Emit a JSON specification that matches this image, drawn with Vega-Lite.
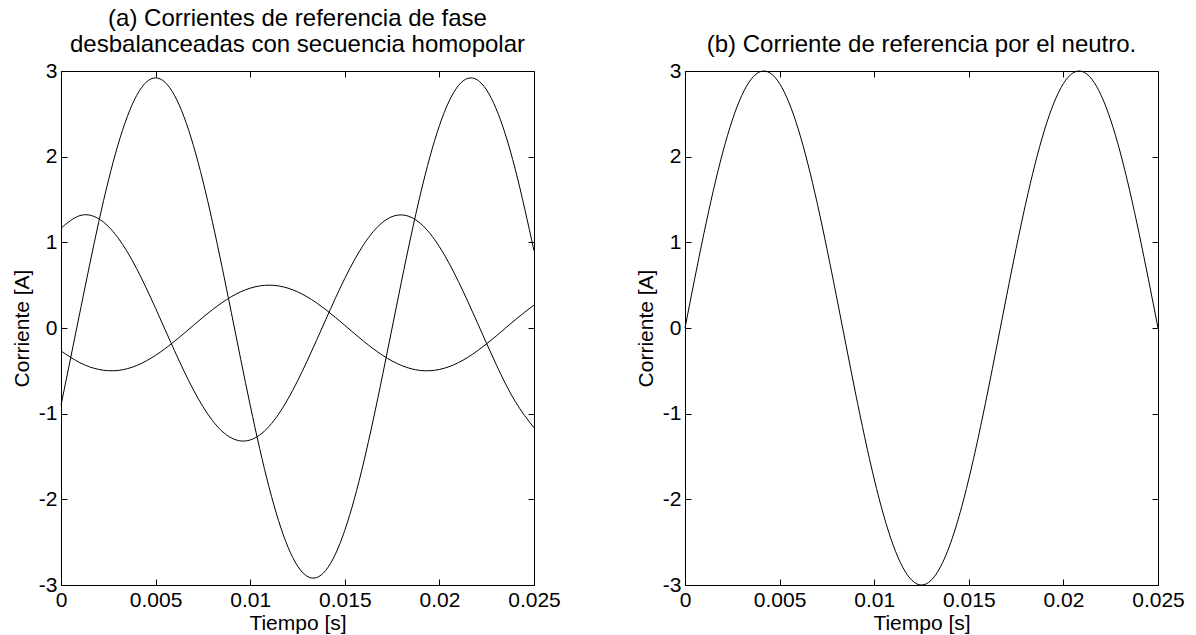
{
  "$schema": "https://vega.github.io/schema/vega-lite/v6.json",
  "background": "white",
  "padding": {"left": 10, "top": 6, "right": 0, "bottom": 0},
  "spacing": 151,
  "bounds": "flush",
  "config": {
    "font": "Liberation Sans",
    "view": {"stroke": "black", "strokeWidth": 1},
    "axis": {
      "grid": false,
      "domain": false,
      "ticks": true,
      "tickColor": "black",
      "tickSize": -6,
      "tickWidth": 1,
      "labelColor": "black",
      "labelFont": "Liberation Sans",
      "labelFontSize": 21,
      "labelFlush": false,
      "labelOverlap": false,
      "titleColor": "black",
      "titleFont": "Liberation Sans",
      "titleFontSize": 21,
      "titleFontWeight": "normal"
    },
    "title": {"font": "Liberation Sans", "fontSize": 24, "fontWeight": "normal", "color": "black", "anchor": "middle", "frame": "group"}
  },
  "datasets": {
    "phase": [
      {"t": 0, "i": -0.902, "fase": "a"}, {"t": 0.001, "i": 0.183, "fase": "a"}, {"t": 0.002, "i": 1.243, "fase": "a"}, {"t": 0.003, "i": 2.129, "fase": "a"}, {"t": 0.004, "i": 2.715, "fase": "a"}, {"t": 0.005, "i": 2.92, "fase": "a"}, {"t": 0.006, "i": 2.715, "fase": "a"}, {"t": 0.007, "i": 2.129, "fase": "a"}, {"t": 0.008, "i": 1.243, "fase": "a"}, {"t": 0.009, "i": 0.183, "fase": "a"}, {"t": 0.01, "i": -0.902, "fase": "a"}, {"t": 0.011, "i": -1.861, "fase": "a"}, {"t": 0.012, "i": -2.559, "fase": "a"}, {"t": 0.013, "i": -2.897, "fase": "a"}, {"t": 0.014, "i": -2.828, "fase": "a"}, {"t": 0.015, "i": -2.362, "fase": "a"}, {"t": 0.016, "i": -1.565, "fase": "a"}, {"t": 0.017, "i": -0.547, "fase": "a"}, {"t": 0.018, "i": 0.547, "fase": "a"}, {"t": 0.019, "i": 1.565, "fase": "a"}, {"t": 0.02, "i": 2.362, "fase": "a"}, {"t": 0.021, "i": 2.828, "fase": "a"}, {"t": 0.022, "i": 2.897, "fase": "a"}, {"t": 0.023, "i": 2.559, "fase": "a"}, {"t": 0.024, "i": 1.861, "fase": "a"}, {"t": 0.025, "i": 0.902, "fase": "a"},
      {"t": 0, "i": 1.165, "fase": "b"}, {"t": 0.001, "i": 1.312, "fase": "b"}, {"t": 0.002, "i": 1.274, "fase": "b"}, {"t": 0.003, "i": 1.057, "fase": "b"}, {"t": 0.004, "i": 0.692, "fase": "b"}, {"t": 0.005, "i": 0.229, "fase": "b"}, {"t": 0.006, "i": -0.265, "fase": "b"}, {"t": 0.007, "i": -0.723, "fase": "b"}, {"t": 0.008, "i": -1.079, "fase": "b"}, {"t": 0.009, "i": -1.283, "fase": "b"}, {"t": 0.01, "i": -1.307, "fase": "b"}, {"t": 0.011, "i": -1.148, "fase": "b"}, {"t": 0.012, "i": -0.827, "fase": "b"}, {"t": 0.013, "i": -0.39, "fase": "b"}, {"t": 0.014, "i": 0.101, "fase": "b"}, {"t": 0.015, "i": 0.579, "fase": "b"}, {"t": 0.016, "i": 0.975, "fase": "b"}, {"t": 0.017, "i": 1.234, "fase": "b"}, {"t": 0.018, "i": 1.32, "fase": "b"}, {"t": 0.019, "i": 1.22, "fase": "b"}, {"t": 0.02, "i": 0.949, "fase": "b"}, {"t": 0.021, "i": 0.545, "fase": "b"}, {"t": 0.022, "i": 0.065, "fase": "b"}, {"t": 0.023, "i": -0.425, "fase": "b"}, {"t": 0.024, "i": -0.855, "fase": "b"}, {"t": 0.025, "i": -1.165, "fase": "b"},
      {"t": 0, "i": -0.268, "fase": "c"}, {"t": 0.001, "i": -0.405, "fase": "c"}, {"t": 0.002, "i": -0.484, "fase": "c"}, {"t": 0.003, "i": -0.496, "fase": "c"}, {"t": 0.004, "i": -0.438, "fase": "c"}, {"t": 0.005, "i": -0.319, "fase": "c"}, {"t": 0.006, "i": -0.155, "fase": "c"}, {"t": 0.007, "i": 0.031, "fase": "c"}, {"t": 0.008, "i": 0.213, "fase": "c"}, {"t": 0.009, "i": 0.365, "fase": "c"}, {"t": 0.01, "i": 0.465, "fase": "c"}, {"t": 0.011, "i": 0.5, "fase": "c"}, {"t": 0.012, "i": 0.465, "fase": "c"}, {"t": 0.013, "i": 0.365, "fase": "c"}, {"t": 0.014, "i": 0.213, "fase": "c"}, {"t": 0.015, "i": 0.031, "fase": "c"}, {"t": 0.016, "i": -0.155, "fase": "c"}, {"t": 0.017, "i": -0.319, "fase": "c"}, {"t": 0.018, "i": -0.438, "fase": "c"}, {"t": 0.019, "i": -0.496, "fase": "c"}, {"t": 0.02, "i": -0.484, "fase": "c"}, {"t": 0.021, "i": -0.405, "fase": "c"}, {"t": 0.022, "i": -0.268, "fase": "c"}, {"t": 0.023, "i": -0.094, "fase": "c"}, {"t": 0.024, "i": 0.094, "fase": "c"}, {"t": 0.025, "i": 0.268, "fase": "c"}
    ],
    "neutral": [
      {"t": 0, "i": 0}, {"t": 0.001, "i": 1.104}, {"t": 0.002, "i": 2.054}, {"t": 0.003, "i": 2.714}, {"t": 0.004, "i": 2.994}, {"t": 0.005, "i": 2.853}, {"t": 0.006, "i": 2.311}, {"t": 0.007, "i": 1.445}, {"t": 0.008, "i": 0.376}, {"t": 0.009, "i": -0.746}, {"t": 0.01, "i": -1.763}, {"t": 0.011, "i": -2.533}, {"t": 0.012, "i": -2.947}, {"t": 0.013, "i": -2.947}, {"t": 0.014, "i": -2.533}, {"t": 0.015, "i": -1.763}, {"t": 0.016, "i": -0.746}, {"t": 0.017, "i": 0.376}, {"t": 0.018, "i": 1.445}, {"t": 0.019, "i": 2.311}, {"t": 0.02, "i": 2.853}, {"t": 0.021, "i": 2.994}, {"t": 0.022, "i": 2.714}, {"t": 0.023, "i": 2.054}, {"t": 0.024, "i": 1.104}, {"t": 0.025, "i": 0}
    ]
  },
  "hconcat": [
    {
      "width": 473,
      "height": 514,
      "title": {"text": ["(a) Corrientes de referencia de fase", "desbalanceadas con secuencia homopolar"], "lineHeight": 26, "offset": 3},
      "data": {"name": "phase"},
      "resolve": {"axis": {"x": "independent", "y": "independent"}},
      "layer": [
        {
          "mark": {"type": "line", "interpolate": "natural", "color": "black", "strokeWidth": 1},
          "encoding": {
            "x": {"field": "t", "type": "quantitative", "scale": {"domain": [0, 0.025], "nice": false, "zero": false},
                  "axis": {"orient": "bottom", "values": [0, 0.005, 0.01, 0.015, 0.02, 0.025], "labelExpr": "'' + datum.value", "labelPadding": 10, "title": "Tiempo [s]", "titlePadding": 2}},
            "y": {"field": "i", "type": "quantitative", "scale": {"domain": [-3, 3], "nice": false, "zero": false},
                  "axis": {"orient": "left", "values": [-3, -2, -1, 0, 1, 2, 3], "labelExpr": "'' + datum.value", "labelPadding": 10, "title": "Corriente [A]", "titlePadding": 6}},
            "detail": {"field": "fase", "type": "nominal"}
          }
        },
        {
          "mark": {"type": "line", "strokeOpacity": 0},
          "encoding": {
            "x": {"field": "t", "type": "quantitative", "axis": {"orient": "top", "values": [0, 0.005, 0.01, 0.015, 0.02, 0.025], "labels": false, "title": null}},
            "y": {"field": "i", "type": "quantitative", "axis": {"orient": "right", "values": [-3, -2, -1, 0, 1, 2, 3], "labels": false, "title": null}},
            "detail": {"field": "fase", "type": "nominal"}
          }
        }
      ]
    },
    {
      "width": 473,
      "height": 514,
      "title": {"text": "(b) Corriente de referencia por el neutro.", "offset": 3},
      "data": {"name": "neutral"},
      "resolve": {"axis": {"x": "independent", "y": "independent"}},
      "layer": [
        {
          "mark": {"type": "line", "interpolate": "natural", "color": "black", "strokeWidth": 1},
          "encoding": {
            "x": {"field": "t", "type": "quantitative", "scale": {"domain": [0, 0.025], "nice": false, "zero": false},
                  "axis": {"orient": "bottom", "values": [0, 0.005, 0.01, 0.015, 0.02, 0.025], "labelExpr": "'' + datum.value", "labelPadding": 10, "title": "Tiempo [s]", "titlePadding": 2}},
            "y": {"field": "i", "type": "quantitative", "scale": {"domain": [-3, 3], "nice": false, "zero": false},
                  "axis": {"orient": "left", "values": [-3, -2, -1, 0, 1, 2, 3], "labelExpr": "'' + datum.value", "labelPadding": 10, "title": "Corriente [A]", "titlePadding": 6}}
          }
        },
        {
          "mark": {"type": "line", "strokeOpacity": 0},
          "encoding": {
            "x": {"field": "t", "type": "quantitative", "axis": {"orient": "top", "values": [0, 0.005, 0.01, 0.015, 0.02, 0.025], "labels": false, "title": null}},
            "y": {"field": "i", "type": "quantitative", "axis": {"orient": "right", "values": [-3, -2, -1, 0, 1, 2, 3], "labels": false, "title": null}}
          }
        }
      ]
    }
  ]
}
